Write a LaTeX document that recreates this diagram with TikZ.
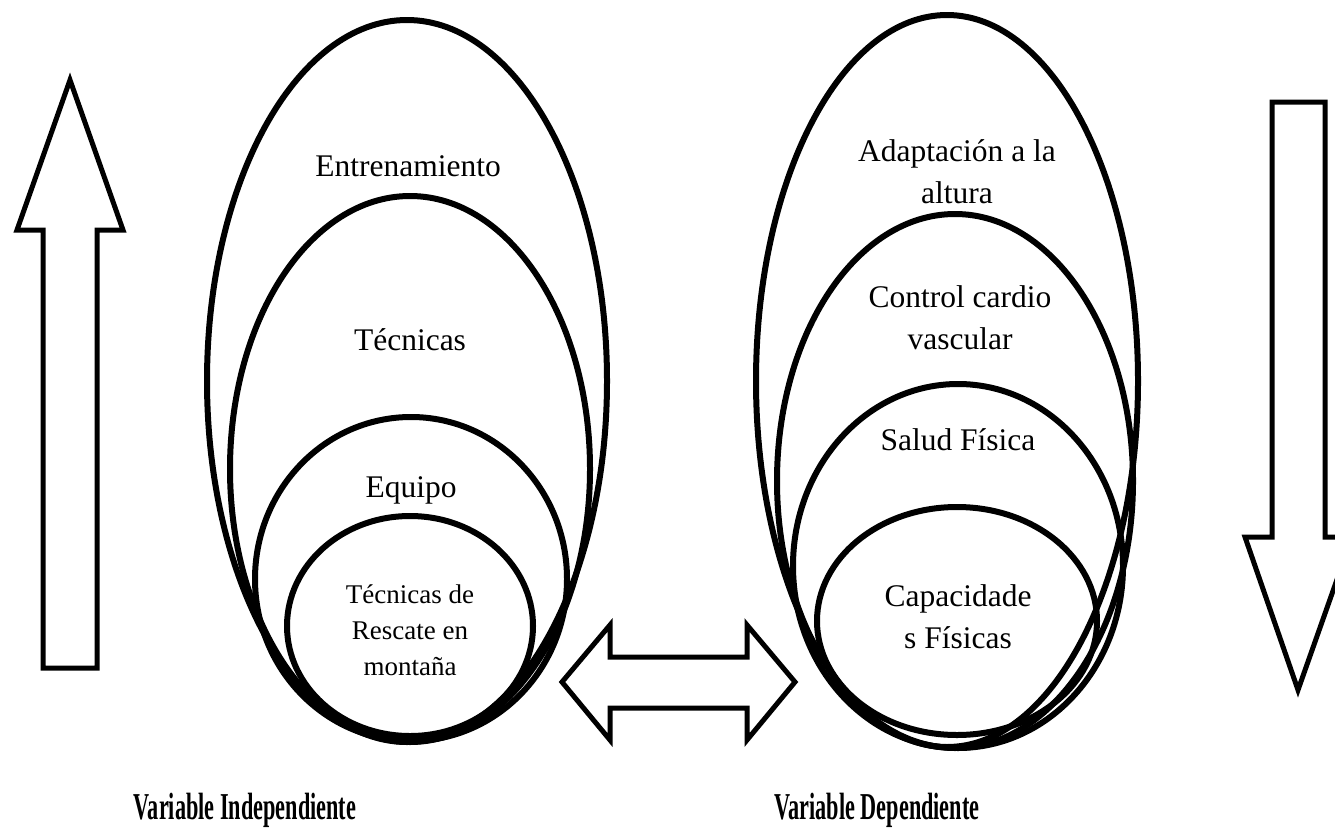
\documentclass[tikz,border=0pt]{standalone}
\usepackage{fontspec}
\setmainfont{Liberation Serif}
\begin{document}
\begin{tikzpicture}[x=1pt,y=-1pt,
  ring/.style={line width=6pt},
  blockarrow/.style={line width=5pt, fill=white, line join=miter},
  lbl/.style={font=\fontsize{31.5}{42}\selectfont, align=center, inner sep=0pt},
  smalllbl/.style={font=\fontsize{27}{36}\selectfont, align=center, inner sep=0pt},
  varlbl/.style={font=\bfseries\fontsize{38}{44}\selectfont, inner sep=0pt}]
\useasboundingbox (0,0) rectangle (1335,830);
\clip (0,0) rectangle (1335,830);

% left nested ellipses
\draw[ring] (407,381) ellipse [x radius=200, y radius=361];
\draw[ring] (410,469) ellipse [x radius=180, y radius=273];
\draw[ring] (411,579) ellipse [x radius=156, y radius=162];
\draw[ring] (410,626) ellipse [x radius=123, y radius=110];

% right nested ellipses
\draw[ring] (947,381) ellipse [x radius=191, y radius=366];
\draw[ring] (955,481) ellipse [x radius=178, y radius=267];
\draw[ring] (958,566) ellipse [x radius=165, y radius=182];
\draw[ring] (957,621) ellipse [x radius=140, y radius=114];

% labels left
\node[lbl] (entr) at (408,166) {Entrenamiento};
\node[lbl] (tec) at (410,340) {Técnicas};
\node[lbl] (equ) at (411,490) {Equipo};
\node[smalllbl] (res) at (410,630) {Técnicas de\\Rescate en\\montaña};

% labels right
\node[lbl] (ada) at (957,172) {Adaptación a la\\altura};
\node[lbl] (car) at (960,318) {Control cardio\\vascular};
\node[lbl] (sal) at (958,440) {Salud Física};
\node[lbl] (cap) at (958,617) {Capacidade\\s Físicas};

% block arrows
\draw[blockarrow] (70,80) -- (123,230) -- (97,230) -- (97,668) -- (43,668) -- (43,230) -- (17,230) -- cycle;
\draw[blockarrow] (1298,690) -- (1352,537) -- (1325,537) -- (1325,102) -- (1272,102) -- (1272,537) -- (1245,537) -- cycle;
\draw[blockarrow] (562,682) -- (610,625) -- (610,657) -- (747,657) -- (747,625) -- (795,682) -- (747,740) -- (747,708) -- (610,708) -- (610,740) -- cycle;

% bottom captions
\node[varlbl] (vi) at (245,810) {\scalebox{0.585}[1]{Variable Independiente}};
\node[varlbl] (vd) at (877,810) {\scalebox{0.585}[1]{Variable Dependiente}};
\end{tikzpicture}
\end{document}
